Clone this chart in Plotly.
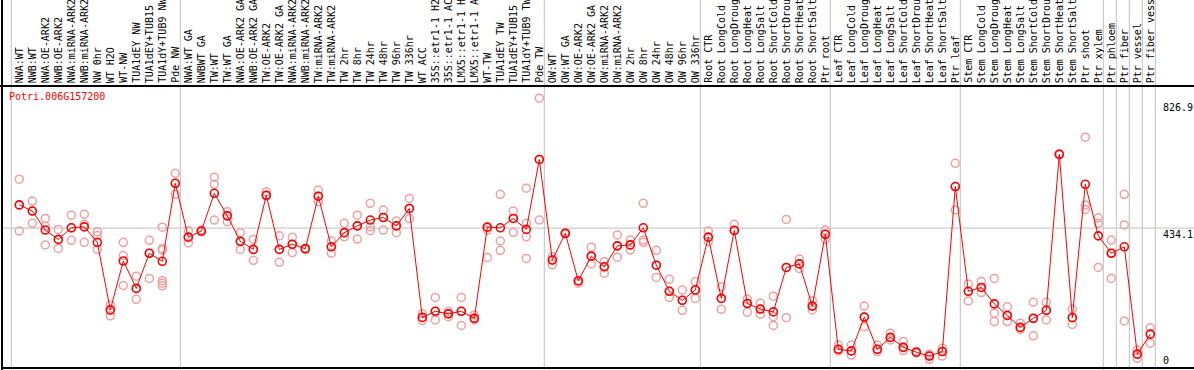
import plotly.graph_objects as go

labels = [
    "NWA:WT", "NWB:WT", "NWA:OE-ARK2", "NWB:OE-ARK2", "NWA:miRNA-ARK2", "NWB:miRNA-ARK2",
    "NW 0hr", "WT H2O", "WT-NW", "TUA1dEY NW", "TUA1dEY+TUB15 NW", "TUA1dY+TUB9 NW", "Pde NW",
    "NWA:WT GA", "NWBWT GA", "TW:WT", "TW:WT GA", "NWA:OE-ARK2 GA", "NWB:OE-ARK2 GA",
    "TW:OE-ARK2", "TW:OE-ARK2 GA", "NWA:miRNA-ARK2", "NWB:miRNA-ARK2", "TW:miRNA-ARK2",
    "TW:miRNA-ARK2", "TW 2hr", "TW 8hr", "TW 24hr", "TW 48hr", "TW 96hr", "TW 336hr", "WT ACC",
    "35S::etr1-1 H2O", "35S::etr1-1 ACC", "LMX5::etr1-1 H2O", "LMX5::etr1-1 ACC", "WT-TW",
    "TUA1dEY TW", "TUA1dEY+TUB15 TW", "TUA1dY+TUB9 TW", "Pde TW",
    "OW:WT", "OW:WT GA", "OW:OE-ARK2", "OW:OE-ARK2 GA", "OW:miRNA-ARK2", "OW:miRNA-ARK2",
    "OW 2hr", "OW 8hr", "OW 24hr", "OW 48hr", "OW 96hr", "OW 336hr",
    "Root CTR", "Root LongCold", "Root LongDrought", "Root LongHeat", "Root LongSalt",
    "Root ShortCold", "Root ShortDrought", "Root ShortHeat", "Root ShortSalt", "Ptr root",
    "Leaf CTR", "Leaf LongCold", "Leaf LongDrought", "Leaf LongHeat", "Leaf LongSalt",
    "Leaf ShortCold", "Leaf ShortDrought", "Leaf ShortHeat", "Leaf ShortSalt", "Ptr leaf",
    "Stem CTR", "Stem LongCold", "Stem LongDrought", "Stem LongHeat", "Stem LongSalt",
    "Stem ShortCold", "Stem ShortDrought", "Stem ShortHeat", "Stem ShortSalt", "Ptr shoot",
    "Ptr xylem", "Ptr phloem", "Ptr fiber", "Ptr vessel", "Ptr fiber vessel",
]

group_sizes = [13, 28, 12, 10, 10, 11, 1, 1, 1, 1]

means = [
    506, 487, 428, 399, 435, 438, 390, 180, 332, 247, 356, 331, 573,
    406, 425, 542, 472, 393, 368, 536, 368, 384, 370, 533, 376, 420, 441, 459, 467, 441,
    495, 157, 176, 168, 176, 154, 437, 435, 464, 430, 647,
    335, 418, 270, 347, 314, 379, 382, 435, 319, 238, 210, 242,
    406, 216, 427, 200, 183, 174, 312, 323, 192, 415,
    58, 53, 158, 58, 95, 64, 49, 37, 51, 563,
    238, 250, 199, 163, 126, 154, 179, 663, 156, 570, 410,
    356, 376, 43, 105,
]

replicates = [
    [586, 425, 505], [518, 487, 449], [464, 440, 382], [430, 371, 399], [474, 396, 435],
    [477, 446, 390], [423, 411, 368], [195, 162, 182], [390, 349, 256], [285, 213, 247],
    [396, 278, 356], [437, 371, 366, 271, 263, 255], [604, 539, 573],
    [426, 388, 406], [428, 425, 422], [592, 570, 459], [485, 454, 472], [420, 368, 393],
    [399, 334, 368], [547, 534, 536], [410, 328, 368], [406, 358, 384], [370, 372, 368],
    [552, 516, 533], [394, 356, 376], [449, 407, 420], [474, 400, 441], [511, 438, 426],
    [490, 428, 467], [456, 420, 441], [526, 464, 495], [168, 147, 157], [219, 149, 176],
    [175, 159, 168], [219, 132, 176], [164, 149, 154], [428, 343, 437], [539, 394, 365],
    [487, 421, 464], [558, 449, 407, 340], [837, 459, 647],
    [345, 320, 335], [418, 420, 416], [263, 270, 272], [375, 323, 347], [330, 294, 314],
    [413, 344, 379], [397, 366, 382], [511, 397, 390], [365, 281, 319], [275, 219, 238],
    [242, 179, 210], [268, 216, 242],
    [425, 392, 406], [252, 182, 216], [446, 427, 427], [214, 173, 200], [201, 167, 183],
    [223, 159, 132], [461, 156, 312], [338, 309, 323], [209, 180, 192], [428, 400, 415],
    [71, 53, 58], [71, 40, 53], [192, 128, 158], [71, 58, 51], [108, 87, 95], [82, 54, 64],
    [47, 49, 52], [43, 27, 37], [61, 37, 51], [635, 490, 563],
    [261, 208, 238], [268, 234, 250], [278, 170, 144], [190, 144, 163], [139, 120, 126],
    [204, 100, 154], [204, 149, 179], [663, 665, 661], [183, 135, 156], [716, 506, 492],
    [466, 449, 312],
    [397, 278, 356], [539, 444, 146], [56, 30, 43], [125, 77, 105],
]

gene_name = "Potri.006G157200"
axis_labels = ["826.9", "434.1", "0"]
axis_values = [826.9, 434.1, 0]

FONT = "DejaVu Sans Mono"
W, H = 1194, 370
L, R, T, B = 2, 0, 86, 2
px_per_idx = 13.0
x0_px = 19.3
plot_h = H - T - B
y_max = plot_h / 0.3223
x_lo = (L - x0_px) / px_per_idx
x_hi = (W - R - x0_px) / px_per_idx

xs = list(range(len(labels)))

rep_x, rep_y = [], []
for i, reps in enumerate(replicates):
    for v in reps:
        rep_x.append(i)
        rep_y.append(v)

fig = go.Figure()
fig.add_trace(go.Scatter(
    x=rep_x, y=rep_y, mode="markers",
    marker=dict(symbol="circle-open", size=8, color="#F0A0A0", line=dict(width=1.5, color="#F0A0A0")),
    hoverinfo="skip", showlegend=False,
))
fig.add_trace(go.Scatter(
    x=xs, y=means, mode="lines+markers",
    line=dict(color="#FF0000", width=1),
    marker=dict(symbol="circle-open", size=8, color="#FF0000", line=dict(width=1.6, color="#FF0000")),
    showlegend=False,
))

shapes = []
top_paper = 1 + T / plot_h
bot_paper = -B / plot_h
pos = 0
bounds = [0]
for g in group_sizes:
    pos += g
    bounds.append(pos)
for b in bounds:
    xb = b - 0.615
    shapes.append(dict(type="line", xref="x", yref="paper", x0=xb, x1=xb, y0=bot_paper, y1=top_paper,
                       line=dict(color="#C0C0C0", width=1), layer="below"))
shapes.append(dict(type="line", xref="paper", yref="y", x0=0, x1=1, y0=axis_values[1], y1=axis_values[1],
                   line=dict(color="#C0C0C0", width=1), layer="below"))
shapes.append(dict(type="line", xref="paper", yref="paper", x0=-L / (W - L - R), x1=1, y0=1, y1=1,
                   line=dict(color="black", width=2)))
shapes.append(dict(type="line", xref="paper", yref="paper", x0=0, x1=1, y0=0, y1=0,
                   line=dict(color="black", width=2)))
shapes.append(dict(type="line", xref="paper", yref="paper", x0=0, x1=0, y0=bot_paper, y1=top_paper,
                   line=dict(color="black", width=2)))

annotations = []
for i, lab in enumerate(labels):
    annotations.append(dict(
        x=i, xref="x", y=1 + 2 / plot_h, yref="paper", text=lab[:14], showarrow=False,
        textangle=-90, xanchor="center", yanchor="bottom",
        font=dict(family=FONT, size=10, color="black"), borderpad=0,
    ))
annotations.append(dict(
    x=(8 - L) / (W - L - R), xref="paper", y=1 - 10.7 / plot_h, yref="paper", text=gene_name,
    showarrow=False, xanchor="left", yanchor="middle",
    font=dict(family=FONT, size=10, color="#FF0000"), borderpad=0,
))
lab_x = (1162 - L) / (W - L - R)
annotations.append(dict(x=lab_x, xref="paper", y=axis_values[0], yref="y", text=axis_labels[0],
                        showarrow=False, xanchor="left", yanchor="top",
                        font=dict(family=FONT, size=10, color="black"), borderpad=0))
annotations.append(dict(x=lab_x, xref="paper", y=axis_values[1], yref="y", text=axis_labels[1],
                        showarrow=False, xanchor="left", yanchor="top",
                        font=dict(family=FONT, size=10, color="black"), borderpad=0))
annotations.append(dict(x=lab_x, xref="paper", y=axis_values[2], yref="y", text=axis_labels[2],
                        showarrow=False, xanchor="left", yanchor="bottom", yshift=1,
                        font=dict(family=FONT, size=10, color="black"), borderpad=0))

fig.update_layout(
    width=W, height=H,
    margin=dict(l=L, r=R, t=T, b=B, pad=0),
    paper_bgcolor="white", plot_bgcolor="white",
    xaxis=dict(range=[x_lo, x_hi], showgrid=False, zeroline=False, showticklabels=False,
               ticks="", showline=False, fixedrange=True),
    yaxis=dict(range=[0, y_max], showgrid=False, zeroline=False, showticklabels=False,
               ticks="", showline=False, fixedrange=True),
    shapes=shapes, annotations=annotations,
    showlegend=False,
)

fig.write_html(
    "out.html",
    config={"displayModeBar": False},
    post_script="document.body.style.margin='0px';document.body.style.overflow='hidden';",
)
